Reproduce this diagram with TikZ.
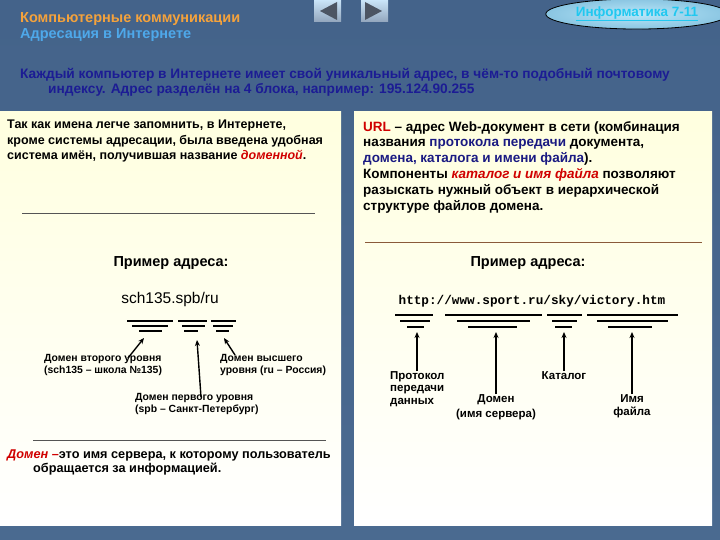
\documentclass[tikz,border=0pt]{standalone}
\usepackage{fontspec}
\setmainfont{Liberation Sans}
\setmonofont{Liberation Mono}
\usetikzlibrary{arrows.meta, shapes, positioning, calc}
\definecolor{slideblue}{HTML}{4A6A90}
\definecolor{slidetop}{HTML}{44638A}
\definecolor{panelcream}{HTML}{FFFFDF}
\definecolor{headorange}{HTML}{F4A23C}
\definecolor{headcyan}{HTML}{4EA8EA}
\definecolor{leadnavy}{HTML}{1C1C94}
\definecolor{termred}{HTML}{D00000}
\definecolor{termnavy}{HTML}{1A1A82}
\definecolor{rulegrey}{HTML}{555555}
\definecolor{rulebrown}{HTML}{8A5A3A}
\definecolor{navgrey}{HTML}{4C5563}
\definecolor{ovalblue}{HTML}{9ADCF6}
\definecolor{ovaltext}{HTML}{20C8F0}

\begin{document}
\begin{tikzpicture}[x=1pt, y=-1pt,
    txt/.style={anchor=north west, inner sep=0pt, align=left},
    lbl/.style={inner sep=0pt, font=\fontsize{10.4}{12.5}\selectfont\bfseries},
    uline/.style={line width=1.7pt},
    pointer/.style={line width=1.4pt, -{Stealth[length=6pt,width=5pt]}}]
  \useasboundingbox (0,0) rectangle (720,540);

  % Фон слайда
  \shade[top color=slidetop, bottom color=slideblue] (0,0) rectangle (720,540);

  % Кнопки навигации
  \shade[top color=white!70!headcyan, bottom color=slideblue!60!white] (314,0) rectangle (341,22);
  \shade[top color=white!70!headcyan, bottom color=slideblue!60!white] (361,0) rectangle (388,22);
  \fill[navgrey] (320,11) -- (337,2) -- (337,20) -- cycle;
  \fill[navgrey] (382,11) -- (365,2) -- (365,20) -- cycle;

  % Овал со ссылкой
  \node[ellipse, draw=black, line width=0.8pt, inner color=ovalblue!70!white, outer color=ovalblue!80!slideblue,
        minimum width=160pt, minimum height=26pt, font=\fontsize{13.5}{15}\selectfont\bfseries, text=ovaltext] (oval) at (637,14) {\underline{Информатика 7-11}};

  % Заголовок
  \node[txt, font=\fontsize{14.5}{16}\selectfont\bfseries, text=headorange] (head1) at (20,12) {Компьютерные коммуникации};
  \node[txt, font=\fontsize{14.5}{16}\selectfont\bfseries, text=headcyan] (head2) at (20,28) {Адресация в Интернете};

  % Вводный текст
  \node[txt, font=\fontsize{13.7}{15.5}\selectfont\bfseries, text=leadnavy] (lead) at (20,68)
    {Каждый компьютер в Интернете имеет свой уникальный адрес, в чём-то подобный почтовому\\
     \hspace*{28pt}индексу. Адрес разделён на 4 блока, например: 195.124.90.255};

  % Панели
  \shade[top color=panelcream, bottom color=white] (0,112) rectangle (341,525);
  \shade[top color=panelcream, bottom color=white] (354,112) rectangle (712,525);

  % Левая панель: доменная система
  \node[txt, font=\fontsize{12.5}{15.5}\selectfont\bfseries] (lefttext) at (7,120)
    {Так как имена легче запомнить, в Интернете,\\
     кроме системы адресации, была введена удобная\\
     система имён, получившая название \textcolor{termred}{\textit{доменной}}.};
  \draw[rulegrey, line width=0.9pt] (22,213) -- (315,213);
  \node[inner sep=0pt, font=\fontsize{14.5}{16}\selectfont\bfseries] (leftex) at (171,263) {Пример адреса:};
  \node[inner sep=0pt, font=\fontsize{15.5}{17}\selectfont] (dname) at (170,299) {sch135.spb/ru};

  \draw[uline] (127,321) -- (173,321) (178,321) -- (207,321) (211,321) -- (236,321);
  \draw[uline] (132,326) -- (168,326) (182,326) -- (205,326) (213,326) -- (233,326);
  \draw[uline] (139,331) -- (162,331) (184,331) -- (198,331) (216,331) -- (229,331);
  \coordinate (sch) at (144,338);
  \coordinate (spb) at (197,340);
  \coordinate (ru) at (224,338);

  \node[lbl, anchor=north west, align=left] (lev2) at (44,354) {Домен второго уровня\\(sch135 – школа №135)};
  \node[lbl, anchor=north west, align=left] (levtop) at (220,354) {Домен высшего\\уровня (ru – Россия)};
  \node[lbl, anchor=north west, align=left] (lev1) at (135,393) {Домен первого уровня\\(spb – Санкт-Петербург)};
  \coordinate (lev2tail) at (128,358);
  \coordinate (levtoptail) at (235,355);
  \coordinate (lev1tail) at (201,397);
  \draw[pointer] (lev2tail) -- (sch);
  \draw[pointer] (lev1tail) -- (spb);
  \draw[pointer] (levtoptail) -- (ru);

  \draw[rulegrey, line width=0.9pt] (33,440) -- (326,440);
  \node[txt, font=\fontsize{12.7}{13.8}\selectfont\bfseries] (domdef) at (7,450)
    {\textcolor{termred}{\textit{Домен –}}это имя сервера, к которому пользователь\\
     \hspace*{26pt}обращается за информацией.};

  % Правая панель: URL
  \node[txt, font=\fontsize{13.5}{15.8}\selectfont\bfseries] (righttext) at (363,121)
    {\textcolor{termred}{URL} – адрес Web-документ в сети (комбинация\\
     названия \textcolor{termnavy}{протокола передачи} документа,\\
     \textcolor{termnavy}{домена, каталога и имени файла}).\\
     Компоненты \textcolor{termred}{\textit{каталог и имя файла}} позволяют\\
     разыскать нужный объект в иерархической\\
     структуре файлов домена.};
  \draw[rulebrown, line width=0.9pt] (365,242) -- (702,242);
  \node[inner sep=0pt, font=\fontsize{14.5}{16}\selectfont\bfseries] (rightex) at (528,263) {Пример адреса:};
  \node[inner sep=0pt, font=\fontsize{12.7}{15}\selectfont\ttfamily\bfseries] (url) at (532,301) {http://www.sport.ru/sky/victory.htm};

  \draw[uline] (395,315) -- (433,315) (445,315) -- (542,315) (547,315) -- (582,315) (587,315) -- (678,315);
  \draw[uline] (400,321) -- (430,321) (457,321) -- (530,321) (552,321) -- (577,321) (597,321) -- (668,321);
  \draw[uline] (407,327) -- (424,327) (468,327) -- (517,327) (555,327) -- (572,327) (608,327) -- (652,327);
  \coordinate (proto) at (417,332);
  \coordinate (host) at (496,332);
  \coordinate (dir) at (564,332);
  \coordinate (file) at (632,332);

  \node[lbl, anchor=north west, align=left, font=\fontsize{11.5}{12.8}\selectfont\bfseries] (protolbl) at (390,371) {Протокол\\передачи\\данных};
  \node[lbl, anchor=north, align=center, font=\fontsize{11.5}{15}\selectfont\bfseries] (hostlbl) at (496,394) {Домен\\(имя сервера)};
  \node[lbl, anchor=north, align=center, font=\fontsize{11.5}{13}\selectfont\bfseries] (dirlbl) at (564,371) {Каталог};
  \node[lbl, anchor=north, align=center, font=\fontsize{11.5}{13}\selectfont\bfseries] (filelbl) at (632,394) {Имя\\файла};
  \draw[pointer] (protolbl.north west -| proto) -- (proto);
  \draw[pointer] (hostlbl.north) -- (host);
  \draw[pointer] (dirlbl.north) -- (dir);
  \draw[pointer] (filelbl.north) -- (file);
\end{tikzpicture}
\end{document}
